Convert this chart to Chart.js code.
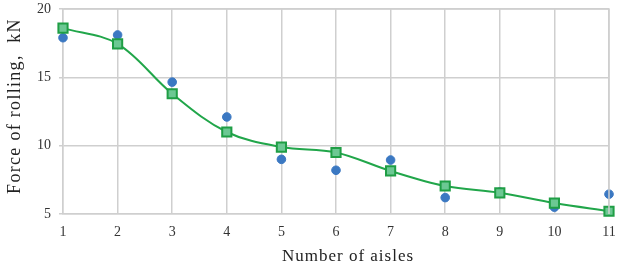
<!DOCTYPE html>
<html>
<head>
<meta charset="utf-8">
<script src="https://cdn.jsdelivr.net/npm/chart.js@4"></script>
<style>
  html, body { margin: 0; padding: 0; background: #fff; }
  #wrap { width: 625px; height: 272px; }
</style>
</head>
<body>
<div id="wrap"><canvas id="myChart" width="625" height="272"></canvas></div>
<script>
  // number of aisles
  var aisles = [1, 2, 3, 4, 5, 6, 7, 8, 9, 10, 11];
  // measured (blue dots)
  var measured = [17.9, 18.1, 14.65, 12.1, 9.0, 8.2, 8.95, 6.2, 6.6, 5.5, 6.45];
  // calculated (green squares)
  var calculated = [18.6, 17.45, 13.8, 11.0, 9.9, 9.5, 8.15, 7.05, 6.55, 5.8, 5.2];
  var yTicks = [5, 10, 15, 20];
  var xTitle = "Number of aisles";
  var yTitle = "Force of rolling,  kN";

  var toPoints = arr => arr.map((v, i) => ({ x: aisles[i], y: v }));

  var serif = "'Liberation Serif', 'Times New Roman', serif";

  new Chart("myChart", {
    type: "scatter",
    data: {
      datasets: [{
        label: "calculated",
        data: toPoints(calculated),
        showLine: true,
        clip: false,
        borderColor: "#21a64a",
        borderWidth: 2,
        tension: 0.35,
        pointStyle: "rect",
        pointRadius: 6.5,
        pointBackgroundColor: "#6cc893",
        pointBorderColor: "#1f9e45",
        pointBorderWidth: 2,
        order: 1
      }, {
        label: "measured",
        data: toPoints(measured),
        showLine: false,
        clip: false,
        pointStyle: "circle",
        pointRadius: 4.3,
        pointBackgroundColor: "#3b78c2",
        pointBorderColor: "#3b78c2",
        order: 2
      }]
    },
    options: {
      responsive: false,
      animation: false,
      layout: { autoPadding: false, padding: { top: 9, right: 16, bottom: 0, left: 0 } },
      plugins: {
        legend: { display: false },
        tooltip: { enabled: false }
      },
      scales: {
        x: {
          type: "linear",
          min: 1,
          max: 11,
          afterFit: axis => { axis.height = 58; axis.paddingRight = 0; axis.paddingLeft = 0; },
          grid: { color: "#cfcfcf", lineWidth: 1.5, drawTicks: false },
          border: { color: "#cfcfcf", width: 1.5 },
          ticks: {
            stepSize: 1,
            padding: 10,
            color: "#333",
            font: { family: serif, size: 14 }
          }
        },
        y: {
          min: 5,
          max: 20,
          afterBuildTicks: axis => { axis.ticks = yTicks.map(v => ({ value: v })); },
          afterFit: axis => { axis.width = 63; axis.paddingTop = 0; axis.paddingBottom = 0; },
          grid: { color: "#cfcfcf", lineWidth: 1.5, drawTicks: true, tickLength: 4 },
          border: { color: "#cfcfcf", width: 1.5 },
          ticks: {
            padding: 8,
            color: "#333",
            font: { family: serif, size: 14 }
          }
        }
      }
    },
    plugins: [{
      id: "frameAndTitles",
      afterDraw: chart => {
        var a = chart.chartArea, ctx = chart.ctx;
        ctx.save();
        ctx.strokeStyle = "#cfcfcf";
        ctx.lineWidth = 1.5;
        ctx.beginPath();
        ctx.moveTo(a.left, a.top);
        ctx.lineTo(a.right, a.top);
        ctx.lineTo(a.right, a.bottom);
        ctx.stroke();

        // axis titles (letter spaced like the original)
        ctx.fillStyle = "#222";
        ctx.textAlign = "center";
        ctx.textBaseline = "middle";
        ctx.letterSpacing = "1px";
        ctx.font = "17px " + serif;
        ctx.fillText(xTitle, 348, 257);

        ctx.translate(15, 106);
        ctx.rotate(-Math.PI / 2);
        ctx.letterSpacing = "1.3px";
        ctx.font = "18px " + serif;
        ctx.fillText(yTitle, 0, 0);
        ctx.restore();
      }
    }]
  });
</script>
</body>
</html>
